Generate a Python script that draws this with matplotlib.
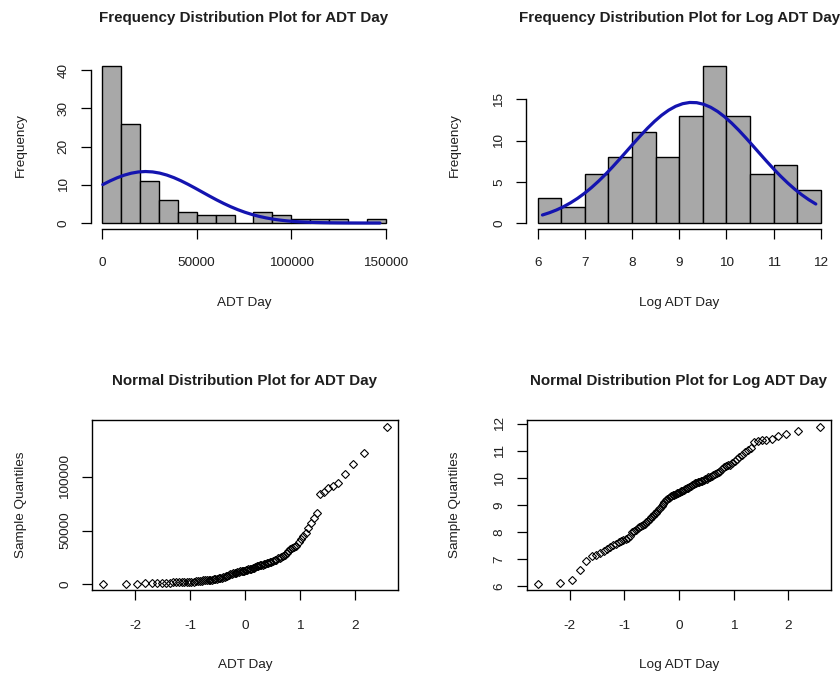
import numpy as np
import matplotlib
matplotlib.use("Agg")
import matplotlib.pyplot as plt
from statistics import NormalDist

# ---------------- data ----------------
adt_day = [
    446, 450, 508, 742, 1033, 1224, 1287, 1366, 1480, 1588, 1703,
    1845, 1959, 2059, 2143, 2231, 2299, 2392, 2566,
    3041, 3165, 3294, 3463, 3605, 3714, 3866, 4024, 4273, 4537, 4769,
    5167, 5432, 5768, 6124, 6503, 6974, 7406, 7864,
    8519, 9136, 9701,
    10097, 10405, 10829, 11271, 11614, 11849, 12088, 12456, 12708, 12965,
    13400, 13700, 14000, 14500, 15000, 15500, 16000, 16500, 17000, 17500,
    18000, 18300, 18700, 19000, 19500, 19800,
    20500, 21000, 21500, 22500, 23000, 24000, 24500, 25500, 26500, 27500, 29000,
    31000, 33000, 34000, 35000, 36000, 39000,
    42000, 45000, 48000, 52300, 57000,
    62000, 66500,
    84000, 86100, 89300, 91100, 94500,
    103100, 111700, 122500, 146800,
]

adt_bins = [0, 10000, 20000, 30000, 40000, 50000, 60000, 70000, 80000,
            90000, 100000, 110000, 120000, 130000, 140000, 150000]
log_bins = [6.0, 6.5, 7.0, 7.5, 8.0, 8.5, 9.0, 9.5, 10.0, 10.5, 11.0, 11.5, 12.0]

adt_hist_xticks = [0, 50000, 100000, 150000]
adt_hist_yticks = [0, 10, 20, 30, 40]
log_hist_xticks = [6, 7, 8, 9, 10, 11, 12]
log_hist_yticks = [0, 5, 10, 15]
qq_xticks = [-2, -1, 0, 1, 2]
adt_qq_yticks = [0, 50000, 100000]
log_qq_yticks = [6, 7, 8, 9, 10, 11, 12]

titles = ["Frequency Distribution Plot for ADT Day",
          "Frequency Distribution Plot for Log ADT Day",
          "Normal Distribution Plot for ADT Day",
          "Normal Distribution Plot for Log ADT Day"]
xlabels = ["ADT Day", "Log ADT Day", "ADT Day", "Log ADT Day"]
ylabels = ["Frequency", "Frequency", "Sample Quantiles", "Sample Quantiles"]

# ---------------- style ----------------
FONT = ["Liberation Sans", "DejaVu Sans"]
plt.rcParams["font.family"] = FONT
TXT = "#1e1e1e"
BAR = "#a8a8a8"
BLUE = "#1414b0"
W, H = 840, 677

adt = np.array(adt_day, dtype=float)
logadt = np.log(adt)

fig = plt.figure(figsize=(W / 100, H / 100), dpi=100)
fig.patch.set_facecolor("white")


def ax_at(l, t, r, b):
    return fig.add_axes([l / W, 1 - b / H, (r - l) / W, (b - t) / H])


def fmt(v):
    return str(int(v)) if float(v).is_integer() else str(v)


def style_ticks(ax, xticks, yticks, xpad, ypad):
    ax.set_xticks(xticks)
    ax.set_xticklabels([fmt(v) for v in xticks])
    ax.set_yticks(yticks)
    ax.set_yticklabels([fmt(v) for v in yticks])
    ax.tick_params(axis="both", direction="out", length=7.2, width=0.9,
                   color="black", labelsize=9.7, labelcolor=TXT)
    ax.tick_params(axis="x", pad=xpad)
    ax.tick_params(axis="y", pad=ypad)
    for t in ax.get_yticklabels():
        t.set_rotation(90)
        t.set_va("center")
        t.set_ha("right")


def rpad(lo, hi):
    p = 0.04 * (hi - lo)
    return lo - p, hi + p


def hist_panel(ax, data, bins, xticks, yticks):
    counts, edges, _ = ax.hist(data, bins=bins, color=BAR, edgecolor="black",
                               linewidth=1.0)
    ax.set_xlim(*rpad(bins[0], bins[-1]))
    ax.set_ylim(*rpad(0, counts.max()))
    # normal fit curve (Quick-R style)
    xfit = np.linspace(data.min(), data.max(), 40)
    m, s = data.mean(), data.std(ddof=1)
    yfit = np.exp(-0.5 * ((xfit - m) / s) ** 2) / (s * np.sqrt(2 * np.pi))
    yfit = yfit * (bins[1] - bins[0]) * len(data)
    ax.plot(xfit, yfit, color=BLUE, lw=2.3, solid_capstyle="round")
    for sp in ("top", "right"):
        ax.spines[sp].set_visible(False)
    ax.spines["left"].set_bounds(yticks[0], yticks[-1])
    ax.spines["bottom"].set_bounds(xticks[0], xticks[-1])
    for sp in ("left", "bottom"):
        ax.spines[sp].set_linewidth(1.0)
    style_ticks(ax, xticks, yticks, 12.7, 7.9)


def qq_panel(ax, data, xticks, yticks):
    n = len(data)
    nd = NormalDist()
    theo = np.array([nd.inv_cdf((i - 0.5) / n) for i in range(1, n + 1)])
    samp = np.sort(data)
    ax.plot(theo, samp, ls="none", marker="D", ms=4.3, mfc="none",
            mec="black", mew=0.8)
    ax.set_xlim(*rpad(theo.min(), theo.max()))
    ax.set_ylim(*rpad(samp.min(), samp.max()))
    for sp in ax.spines.values():
        sp.set_linewidth(1.0)
    style_ticks(ax, xticks, yticks, 14.5, 7.9)


ax1 = ax_at(90.6, 60.0, 397.4, 229.3)
ax2 = ax_at(526.4, 60.0, 832.0, 229.3)
ax3 = ax_at(92.0, 420.3, 398.0, 590.0)
ax4 = ax_at(526.8, 420.3, 831.2, 590.0)

hist_panel(ax1, adt, adt_bins, adt_hist_xticks, adt_hist_yticks)
hist_panel(ax2, logadt, log_bins, log_hist_xticks, log_hist_yticks)
qq_panel(ax3, adt, qq_xticks, adt_qq_yticks)
qq_panel(ax4, logadt, qq_xticks, log_qq_yticks)

# titles and axis labels placed like R's mtext lines
panels = [(ax1, 18.3, 303.3, 20.7), (ax2, 18.3, 303.3, 455.0),
          (ax3, 380.7, 665.0, 20.7), (ax4, 380.7, 665.0, 455.0)]
for k, (ax, ty, xly, ylx) in enumerate(panels):
    bb = ax.get_position()
    cx = (bb.x0 + bb.x1) / 2
    cy = (bb.y0 + bb.y1) / 2
    fig.text(cx, 1 - ty / H, titles[k], ha="center", va="center",
             fontsize=10.9, fontweight="bold", color=TXT)
    fig.text(cx, 1 - xly / H, xlabels[k], ha="center", va="center",
             fontsize=9.7, color=TXT)
    fig.text(ylx / W, cy, ylabels[k], ha="center", va="center",
             rotation=90, fontsize=9.7, color=TXT)

fig.savefig("out.png", dpi=100, facecolor="white")
